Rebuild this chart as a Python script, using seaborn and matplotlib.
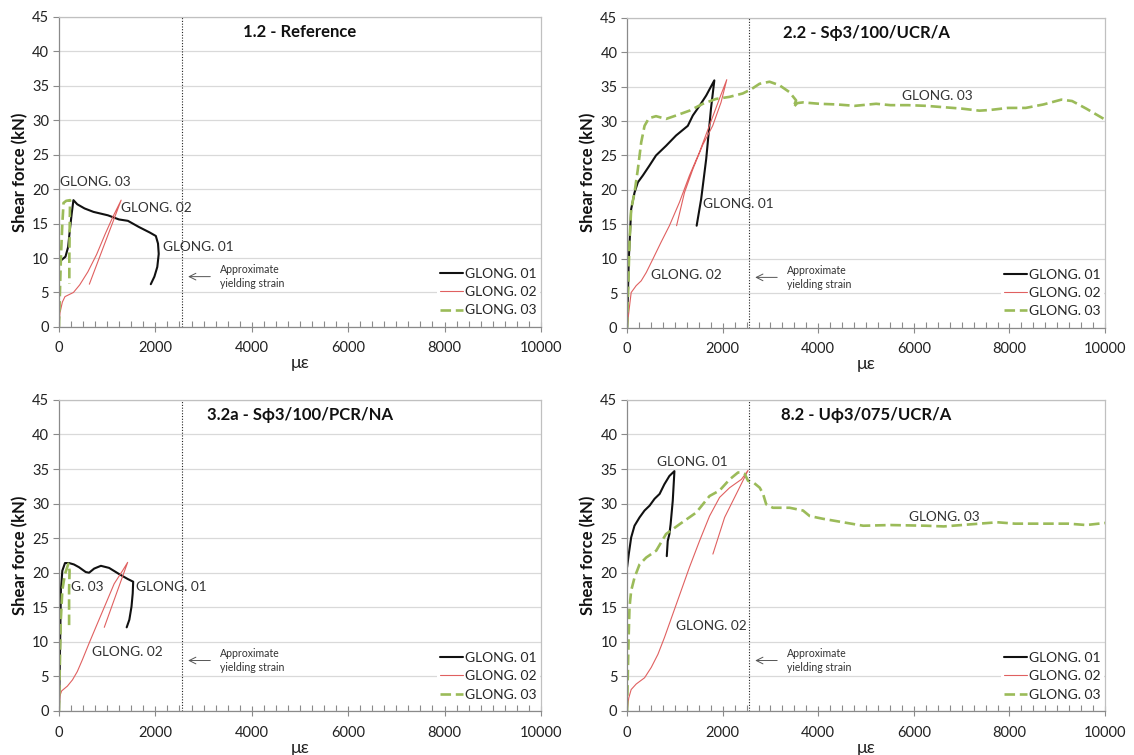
import matplotlib
matplotlib.use("Agg")
import matplotlib.pyplot as plt
from matplotlib.lines import Line2D
from matplotlib.ticker import MultipleLocator
import seaborn as sns

# --- data (x = microstrain, y = shear force kN) ---
# 1.2 - Reference
ref_g01_x = [0, 0, 50, 135, 190, 225, 265, 300, 380, 530, 715, 1015, 1245, 1430, 1660, 1885, 2010, 2055, 2070, 2040, 1980, 1905]
ref_g01_y = [0, 9.2, 9.7, 10.2, 11.6, 14.0, 16.5, 18.4, 17.8, 17.2, 16.7, 16.2, 15.6, 15.4, 14.5, 13.7, 13.2, 12.1, 10.6, 8.7, 7.3, 6.2]
ref_g02_x = [0, 20, 70, 125, 300, 430, 600, 780, 960, 1120, 1290, 630]
ref_g02_y = [0, 2.0, 3.6, 4.4, 5.0, 6.1, 8.0, 10.5, 13.5, 16.0, 18.4, 6.2]
ref_g03_x = [0, 20, 40, 70, 95, 150, 230, 222, 215, 215]
ref_g03_y = [0, 5, 10, 15, 18.0, 18.3, 18.4, 14, 10, 6.3]

# 2.2 - S phi3/100/UCR/A
s22_g01_x = [0, 35, 85, 155, 225, 330, 465, 605, 815, 1025, 1270, 1375, 1515, 1655, 1825, 1755, 1655, 1550, 1455]
s22_g01_y = [0, 9.9, 17.2, 19.6, 21.1, 22.1, 23.5, 25.0, 26.4, 27.9, 29.3, 30.8, 32.2, 33.7, 35.9, 31.8, 24.5, 18.7, 14.8]
s22_g02_x = [0, 35, 85, 190, 295, 400, 535, 710, 885, 1095, 1305, 1515, 1720, 1930, 2085, 1965, 1790, 1580, 1375, 1200, 1035]
s22_g02_y = [0, 2.2, 5.1, 6.1, 6.8, 8.0, 9.9, 12.4, 14.8, 18.2, 22.1, 25.5, 29.3, 33.2, 36.0, 32.7, 29.3, 26.5, 23.0, 19.6, 14.8]
s22_g03_x = [0, 20, 50, 85, 155, 225, 295, 365, 455, 605, 815, 1025, 1305, 1585, 1860, 2140, 2420, 2595, 2770, 2980,
             3185, 3395, 3535, 3480, 3560, 3680, 4020, 4395, 4765, 5210, 5510, 5885, 6255, 6625, 7000, 7370, 7595,
             7965, 8340, 8710, 9085, 9310, 9605, 10000]
s22_g03_y = [0, 5.1, 12.4, 17.2, 19.6, 23.0, 26.9, 29.3, 30.4, 30.7, 30.3, 30.8, 31.5, 32.5, 33.2, 33.5, 34.0, 34.6, 35.4, 35.7,
             35.2, 34.2, 33.0, 32.0, 32.6, 32.7, 32.5, 32.4, 32.2, 32.5, 32.3, 32.3, 32.2, 32.0, 31.8, 31.5, 31.6,
             31.9, 31.9, 32.4, 33.1, 32.9, 31.8, 30.2]

# 3.2a - S phi3/100/PCR/NA
s32_g01_x = [0, 15, 30, 40, 70, 125, 210, 310, 415, 555, 625, 730, 870, 1040, 1250, 1425, 1540, 1530, 1505, 1460, 1405]
s32_g01_y = [0, 5.5, 12.7, 17.5, 20.3, 21.4, 21.4, 21.2, 20.8, 20.1, 20.0, 20.6, 21.0, 20.7, 19.8, 19.1, 18.7, 17.0, 15.1, 13.2, 12.1]
s32_g02_x = [0, 20, 55, 175, 280, 380, 485, 625, 800, 970, 1145, 1320, 1425, 940]
s32_g02_y = [0, 2.2, 2.9, 3.6, 4.5, 5.7, 7.4, 9.8, 12.7, 15.5, 18.4, 20.3, 21.5, 12.1]
s32_g03_x = [0, 15, 35, 70, 125, 195, 220, 210, 210]
s32_g03_y = [0, 5.5, 12.7, 17.5, 19.8, 21.3, 20.3, 17.5, 12.2]

# 8.2 - U phi3/075/UCR/A
u82_g01_x = [0, 35, 85, 155, 260, 365, 470, 575, 680, 780, 885, 990, 955, 910, 885, 850, 830]
u82_g01_y = [20.8, 22.7, 25.1, 26.8, 28.0, 29.0, 29.7, 30.7, 31.4, 32.8, 34.0, 34.7, 30.4, 27.0, 25.6, 24.6, 22.4]
u82_g02_x = [0, 35, 85, 190, 365, 505, 645, 780, 955, 1130, 1305, 1515, 1725, 1935, 2145, 2390, 2530, 2285, 2040, 1795]
u82_g02_y = [0, 1.9, 3.1, 3.9, 4.8, 6.3, 8.2, 10.6, 14.0, 17.4, 20.8, 24.6, 28.2, 30.9, 32.3, 33.5, 34.8, 31.4, 28.0, 22.7]
u82_g03_x = [0, 15, 30, 50, 85, 155, 260, 400, 610, 815, 1095, 1445, 1725, 1935, 2145, 2320, 2390, 2460, 2530, 2635,
             2775, 2845, 2910, 3050, 3400, 3680, 3820, 4100, 4520, 4940, 5510, 6255, 6625, 7000, 7370, 7745, 8115,
             8490, 8860, 9235, 9605, 10000]
u82_g03_y = [0, 5.3, 10.1, 15.0, 17.4, 19.3, 21.2, 22.2, 23.2, 25.6, 27.0, 28.7, 31.1, 31.9, 33.5, 34.5, 34.5, 34.3, 33.3, 33.1,
             32.3, 31.4, 29.9, 29.4, 29.4, 29.0, 28.2, 27.8, 27.3, 26.8, 26.9, 26.8, 26.7, 26.9, 27.1, 27.3, 27.1,
             27.1, 27.1, 27.1, 26.9, 27.2]

titles = ["1.2 - Reference", "2.2 - S\u03d53/100/UCR/A", "3.2a - S\u03d53/100/PCR/NA", "8.2 - U\u03d53/075/UCR/A"]
series_names = ["GLONG. 01", "GLONG. 02", "GLONG. 03"]
yield_strain = 2560

sns.set_theme(style="white")
plt.rcParams['font.family'] = ['Lato', 'DejaVu Sans']

BLACK = "#111111"
RED = "#E06060"
GREEN = "#9BBB59"
styles = [
    dict(color=BLACK, lw=1.5),
    dict(color=RED, lw=0.8),
    dict(color=GREEN, lw=1.9, linestyle=(0, (4, 1.8))),
]

panels = [
    ([ref_g01_x, ref_g02_x, ref_g03_x], [ref_g01_y, ref_g02_y, ref_g03_y],
     [("GLONG. 03", 20, 21.0), ("GLONG. 02", 1280, 17.3), ("GLONG. 01", 2160, 11.6)]),
    ([s22_g01_x, s22_g02_x, s22_g03_x], [s22_g01_y, s22_g02_y, s22_g03_y],
     [("GLONG. 03", 5760, 33.6), ("GLONG. 01", 1590, 17.9), ("GLONG. 02", 500, 7.6)]),
    ([s32_g01_x, s32_g02_x, s32_g03_x], [s32_g01_y, s32_g02_y, s32_g03_y],
     [("G. 03", 240, 18.0), ("GLONG. 01", 1595, 18.0), ("GLONG. 02", 690, 8.5)]),
    ([u82_g01_x, u82_g02_x, u82_g03_x], [u82_g01_y, u82_g02_y, u82_g03_y],
     [("GLONG. 01", 620, 36.0), ("GLONG. 03", 5905, 28.1), ("GLONG. 02", 1030, 12.3)]),
]

# axes rectangles in figure fractions (1134 x 755 px)
rects = [
    [0.052, 0.567, 0.425, 0.4106],
    [0.553, 0.566, 0.4215, 0.4106],
    [0.052, 0.0583, 0.425, 0.412],
    [0.553, 0.0583, 0.4215, 0.412],
]

fig = plt.figure(figsize=(11.34, 7.55), dpi=100)

for i, (xs, ys, labels) in enumerate(panels):
    ax = fig.add_axes(rects[i])
    ax.set_xlim(0, 10000)
    ax.set_ylim(0, 45)

    # horizontal grid only
    ax.yaxis.set_major_locator(MultipleLocator(5))
    ax.xaxis.set_major_locator(MultipleLocator(2000))
    ax.xaxis.set_minor_locator(MultipleLocator(250))
    ax.grid(axis="y", color="#D9D9D9", lw=0.9)
    ax.grid(axis="x", visible=False)
    ax.set_axisbelow(True)

    for k in range(3):
        sns.lineplot(x=xs[k], y=ys[k], sort=False, estimator=None, ax=ax, **styles[k])

    ax.axvline(yield_strain, color="#222222", lw=0.8, linestyle=(0, (1, 1.5)))
    ax.annotate("", xy=(2680, 7.3), xytext=(3140, 7.3),
                arrowprops=dict(arrowstyle="->", color="#555555", lw=0.7, shrinkA=0, shrinkB=0))
    ax.text(3340, 7.3, "Approximate\nyielding strain", fontsize=7.6, color="#333333",
            ha="left", va="center", linespacing=1.3)

    ax.text(5000, 42.8, titles[i], fontsize=12, fontweight="bold", ha="center", va="center", color="#111111")

    for txt, lx, ly in labels:
        ax.text(lx, ly, txt, fontsize=9.8, ha="left", va="center", color="#333333")

    handles = [
        Line2D([0], [0], color=BLACK, lw=1.5),
        Line2D([0], [0], color=RED, lw=0.8),
        Line2D([0], [0], color=GREEN, lw=1.9, linestyle=(0, (4, 1.8))),
    ]
    leg = ax.legend(handles, series_names, loc="lower right", bbox_to_anchor=(1.012, 0.0),
                    fontsize=10, frameon=True, framealpha=1, facecolor="white", edgecolor="none",
                    handlelength=1.6, handletextpad=0.15, labelspacing=0.45, borderpad=0.25)

    for side in ["top", "right"]:
        ax.spines[side].set_color("#C0C0C0")
        ax.spines[side].set_linewidth(0.9)
    for side in ["left", "bottom"]:
        ax.spines[side].set_color("#8A8A8A")
        ax.spines[side].set_linewidth(0.9)

    ax.tick_params(axis="x", which="major", direction="inout", length=7, width=0.8, color="#8A8A8A",
                   labelsize=10.5, pad=7, labelcolor="#222222", bottom=True)
    ax.tick_params(axis="x", which="minor", direction="in", length=4, width=0.8, color="#8A8A8A", bottom=True)
    ax.tick_params(axis="y", which="major", direction="out", length=4, width=0.8, color="#8A8A8A",
                   labelsize=10.5, pad=3, labelcolor="#222222", left=True)

    ax.set_xlabel("\u03bc\u03b5", fontsize=13, labelpad=0, color="#222222")
    ax.set_ylabel("Shear force (kN)", fontsize=12, fontweight="bold", labelpad=3, color="#111111")

fig.savefig("out.png", dpi=100)
